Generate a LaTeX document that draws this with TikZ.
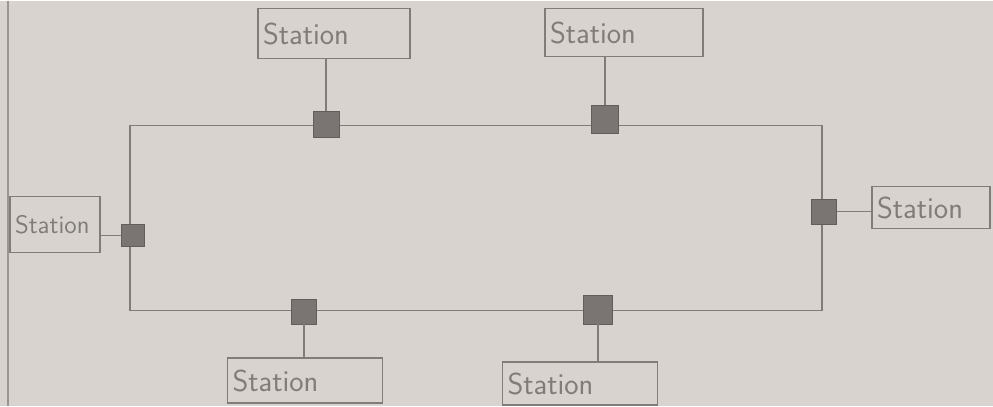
\documentclass[tikz,border=0pt]{standalone}
\definecolor{paper}{RGB}{216,211,206}
\definecolor{pen}{RGB}{128,124,121}
\definecolor{tapgray}{RGB}{122,117,114}
\tikzset{
  stationbox/.style={draw=pen,line width=0.9pt,inner xsep=0.1cm,inner ysep=0pt,
    align=left,text=pen,font=\sffamily},
  tap/.style={draw=tapgray!80!black,fill=tapgray,minimum size=0.5cm,inner sep=0pt},
  wire/.style={draw=pen,line width=0.8pt}
}
\begin{document}
\begin{tikzpicture}[x=0.02cm,y=-0.02cm]
  % paper and margin
  \fill[paper] (0,0) rectangle (993,405);
  \draw[pen!80,line width=0.6pt] (8,0) -- (8,405);
  % the ring
  \draw[wire] (130,125) rectangle (822,310);
  % taps on the ring
  \foreach \n/\x/\y/\s in {1/326/124/0.52,2/605/119/0.55,3/824/211/0.5,4/133/235/0.45,5/304/311/0.5,6/598/309/0.58}
    \node[tap,minimum size=\s cm] (t\n) at (\x,\y) {};
  % stations
  \foreach \n/\x/\y/\w/\h/\f in {1/334/33/3.04/1.0/\LARGE,2/624/32/3.16/0.96/\LARGE,3/931/207/2.36/0.84/\LARGE,4/55/224/1.8/1.12/\Large,5/305/380/3.1/0.9/\LARGE,6/580/383/3.1/0.86/\LARGE}
    \node[stationbox,minimum width=\w cm,minimum height=\h cm,text width=\w cm-0.2cm,font=\sffamily\f] (s\n) at (\x,\y) {Station};
  % drop cables
  \draw[wire] (s1.south -| t1) -- (t1);
  \draw[wire] (s2.south -| t2) -- (t2);
  \draw[wire] (t3) -- (t3 -| s3.west);
  \draw[wire] (s4.east |- t4) -- (t4);
  \draw[wire] (t5) -- (t5 |- s5.north);
  \draw[wire] (t6) -- (t6 |- s6.north);
\end{tikzpicture}
\end{document}
